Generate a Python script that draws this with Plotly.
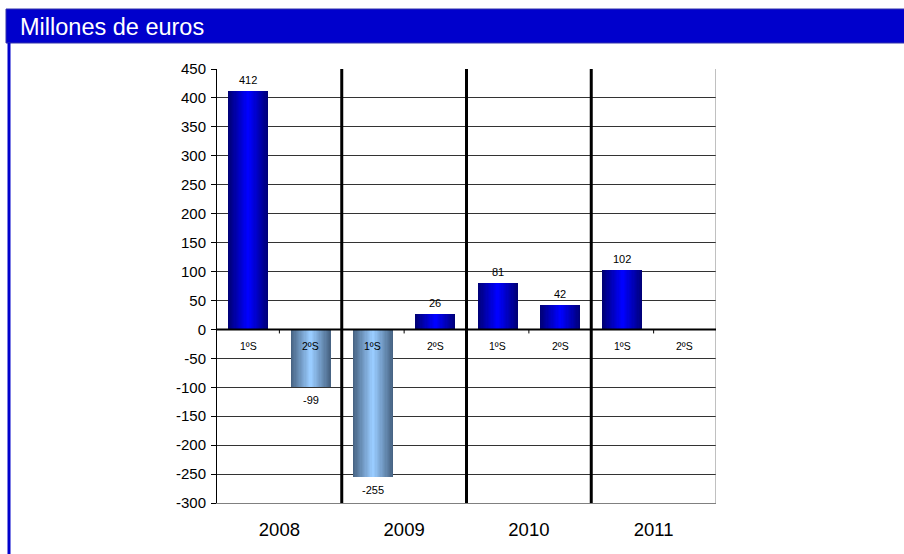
import plotly.graph_objects as go

# Half-year results, millions of euros
years = ["2008", "2009", "2010", "2011"]
halves = ["1ºS", "2ºS", "1ºS", "2ºS", "1ºS", "2ºS", "1ºS", "2ºS"]
values = [412, -99, -255, 26, 81, 42, 102, None]
y_ticks = list(range(-300, 451, 50))

W, H = 904, 554
PL, PR, PT, PB = 217, 716, 69, 503  # plot area in pixels

def px(x):
    return (x - PL) / (PR - PL)

def py(y):
    return (PB - y) / (PB - PT)

def mix(c1, c2, t):
    return "rgb({},{},{})".format(*[round(a + (b - a) * t) for a, b in zip(c1, c2)])

POS_EDGE, POS_MID = (0, 0, 120), (0, 0, 255)
NEG_EDGE, NEG_MID = (72, 100, 132), (153, 204, 255)

xpos = list(range(len(values)))
BAR_W = 0.64
LAYERS = 16

fig = go.Figure()
# shaded bars: stacked layers narrowing toward a bright centre
for j in range(LAYERS):
    t = j / (LAYERS - 1)
    colors = [mix(POS_EDGE, POS_MID, t) if (v or 0) >= 0 else mix(NEG_EDGE, NEG_MID, t) for v in values]
    fig.add_trace(go.Bar(
        x=xpos, y=values, width=BAR_W * (1 - j / LAYERS),
        marker=dict(color=colors, line=dict(width=0)),
        hoverinfo="skip", showlegend=False,
    ))

annotations = []
for i, v in enumerate(values):
    if v is not None:
        annotations.append(dict(x=i, y=v, text=str(v), showarrow=False,
                                yshift=11 if v >= 0 else -13,
                                font=dict(size=11, color="#000")))
    annotations.append(dict(x=i, y=0, text=halves[i], showarrow=False, yshift=-17,
                            font=dict(size=10.5, color="#000")))

# header band
annotations.append(dict(xref="paper", yref="paper", x=px(18), y=py(27), xanchor="left",
                        yanchor="middle", text="Millones de euros", showarrow=False,
                        font=dict(size=23.5, color="#fff")))

shapes = [
    dict(type="rect", xref="paper", yref="paper", x0=px(6), x1=px(905), y0=py(9), y1=py(43),
         fillcolor="#0000CC", line=dict(width=1, color="#3333AA"), layer="below"),
    dict(type="rect", xref="paper", yref="paper", x0=px(7.5), x1=px(10.5), y0=py(43), y1=py(556),
         fillcolor="#0000CC", line=dict(width=0)),
    dict(type="line", xref="x", yref="y", x0=7.5, x1=7.5, y0=-300, y1=450,
         line=dict(color="#808080", width=1)),
    dict(type="line", xref="x", yref="y", x0=-0.5, x1=7.5, y0=0, y1=0,
         line=dict(color="#000", width=2)),
]
# year separators
for b in (1.5, 3.5, 5.5):
    shapes.append(dict(type="line", xref="x", yref="y", x0=b, x1=b, y0=-300, y1=450,
                       line=dict(color="#000", width=3)))
# small ticks between halves on the zero line
for b in (0.5, 2.5, 4.5, 6.5):
    shapes.append(dict(type="line", xref="x", yref="y", x0=b, x1=b, y0=0, y1=-7,
                       line=dict(color="#000", width=1)))

fig.update_layout(
    width=W, height=H,
    margin=dict(l=PL, r=W - PR, t=PT, b=H - PB, autoexpand=False),
    paper_bgcolor="#fff", plot_bgcolor="#fff",
    barmode="overlay", bargap=0,
    font=dict(family="Liberation Sans, Arial, sans-serif", color="#000"),
    annotations=annotations, shapes=shapes,
)
fig.update_xaxes(range=[-0.5, 7.5], tickvals=[0.5, 2.5, 4.5, 6.5], ticktext=years,
                 ticks="", showgrid=False, zeroline=False, showline=True,
                 linecolor="#808080", linewidth=1, tickfont=dict(size=18.5),
                 ticklabelstandoff=10, automargin=False)
fig.update_yaxes(range=[-300, 450], tickvals=y_ticks, ticktext=[str(v) for v in y_ticks],
                 showgrid=True, gridcolor="#333", gridwidth=1, zeroline=False,
                 showline=True, linecolor="#000", linewidth=1,
                 ticks="outside", ticklen=5, tickcolor="#000", tickfont=dict(size=15),
                 ticklabelstandoff=2, automargin=False)

fig.write_html("out.html")
